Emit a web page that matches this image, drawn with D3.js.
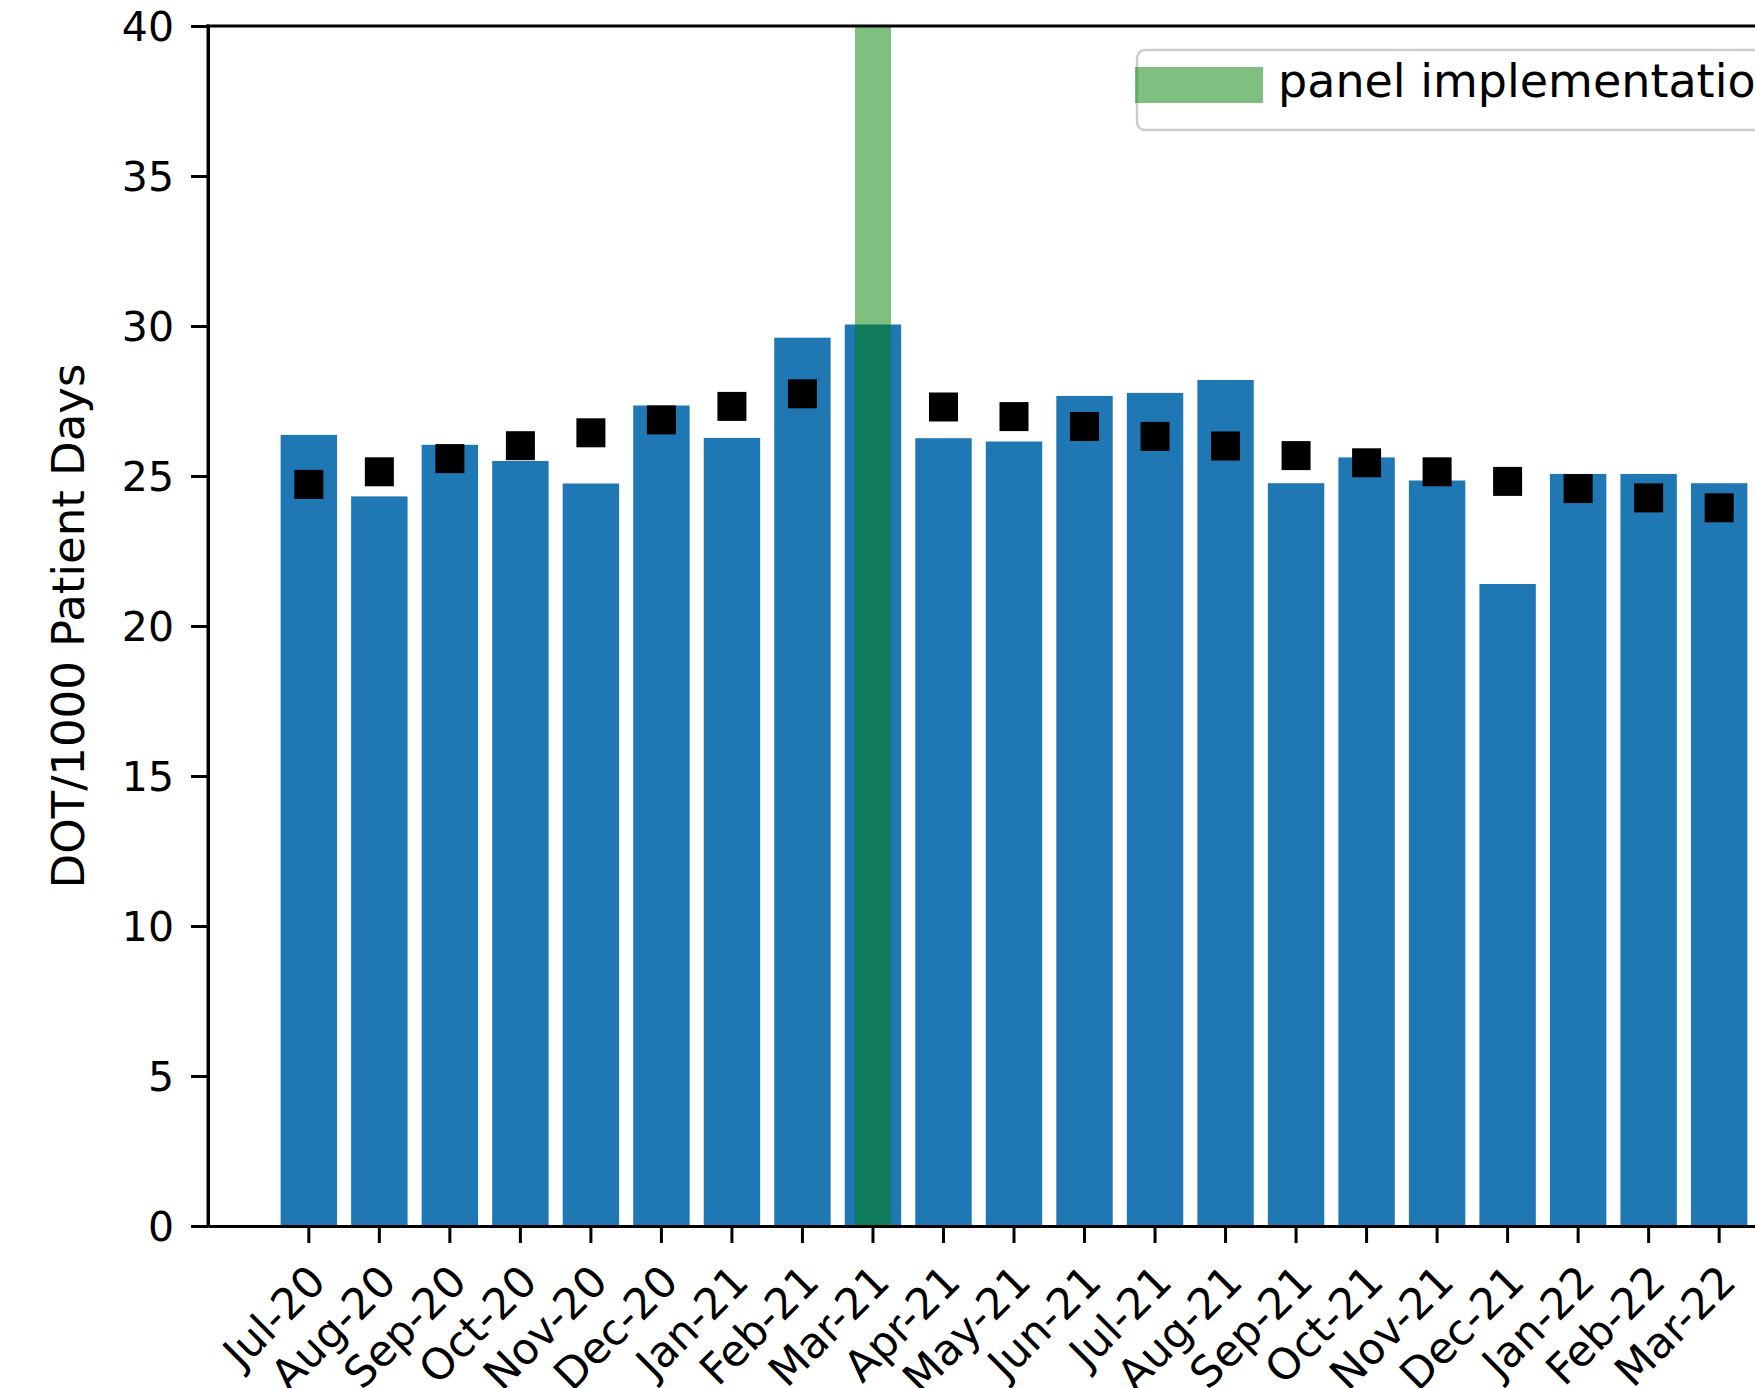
<!DOCTYPE html>
<html>
<head>
<meta charset="utf-8">
<script src="https://cdn.jsdelivr.net/npm/d3@7"></script>
<style>
  html, body { margin: 0; padding: 0; background: #ffffff; overflow: hidden; }
  svg { display: block; font-family: "DejaVu Sans", sans-serif; }
</style>
</head>
<body>
<script>
// Monthly antimicrobial days of therapy per 1000 patient days
const months = ["Jul-20", "Aug-20", "Sep-20", "Oct-20", "Nov-20", "Dec-20", "Jan-21",
  "Feb-21", "Mar-21", "Apr-21", "May-21", "Jun-21", "Jul-21", "Aug-21", "Sep-21",
  "Oct-21", "Nov-21", "Dec-21", "Jan-22", "Feb-22", "Mar-22"];

// Observed monthly rate (bars)
const observedRate = [26.37, 24.32, 26.04, 25.50, 24.75, 27.35, 26.27, 29.61, 30.05,
  26.26, 26.15, 27.67, 27.77, 28.20, 24.76, 25.62, 24.85, 21.40, 25.07, 25.07, 24.76];

// Segmented-regression fitted values (square markers); none for the implementation month
const fittedRate = [24.72, 25.14, 25.58, 26.01, 26.44, 26.87, 27.32, 27.74, null,
  27.30, 26.98, 26.65, 26.32, 26.00, 25.68, 25.44, 25.14, 24.82, 24.58, 24.27, 23.94];

const implementationMonth = "Mar-21";
const legendLabel = "panel implementation";
const yLabel = "DOT/1000 Patient Days";
const yTicks = [0, 5, 10, 15, 20, 25, 30, 35, 40];

const W = 1755, H = 1388;
const plot = { left: 208, right: 1820, top: 26, bottom: 1226 };

const svg = d3.select("body").append("svg")
  .attr("width", W).attr("height", H);

const x = d3.scaleBand()
  .domain(months)
  .range([plot.left, plot.right])
  .paddingInner(0.2)
  .paddingOuter(1.03);

const y = d3.scaleLinear()
  .domain([0, 40])
  .range([plot.bottom, plot.top]);

// Bars
svg.append("g")
  .selectAll("rect")
  .data(months.map((m, i) => ({ m, v: observedRate[i] })))
  .join("rect")
  .attr("x", d => x(d.m))
  .attr("width", x.bandwidth())
  .attr("y", d => y(d.v))
  .attr("height", d => y(0) - y(d.v))
  .attr("fill", "#1f77b4");

// Fitted markers
const marker = 29;
svg.append("g")
  .selectAll("rect")
  .data(months.map((m, i) => ({ m, v: fittedRate[i] })).filter(d => d.v != null))
  .join("rect")
  .attr("x", d => x(d.m) + x.bandwidth() / 2 - marker / 2)
  .attr("y", d => y(d.v) - marker / 2)
  .attr("width", marker)
  .attr("height", marker)
  .attr("fill", "#000000");

// Implementation line
const lineWidth = 36;
const ix = x(implementationMonth) + x.bandwidth() / 2;
svg.append("line")
  .attr("x1", ix).attr("x2", ix)
  .attr("y1", y(40)).attr("y2", y(0))
  .attr("stroke", "#008000")
  .attr("stroke-opacity", 0.5)
  .attr("stroke-width", lineWidth);

// Axes
const axisColor = "#000000";
const yAxis = svg.append("g")
  .attr("transform", `translate(${plot.left},0)`)
  .call(d3.axisLeft(y).tickValues(yTicks).tickSize(17).tickSizeOuter(0).tickPadding(17));
yAxis.selectAll("text")
  .attr("font-size", 41)
  .attr("font-family", "DejaVu Sans")
  .attr("fill", "#000")
  .attr("dy", "0.36em");

const xAxis = svg.append("g")
  .attr("transform", `translate(0,${plot.bottom})`)
  .call(d3.axisBottom(x).tickSize(17).tickSizeOuter(0));
xAxis.selectAll("text")
  .attr("font-size", 43)
  .attr("font-family", "DejaVu Sans")
  .attr("fill", "#000")
  .attr("x", 0).attr("y", 0).attr("dy", null)
  .attr("text-anchor", "end")
  .attr("transform", "translate(19,58) rotate(-45)");

svg.selectAll(".domain").attr("stroke", axisColor).attr("stroke-width", 3);
svg.selectAll(".tick line").attr("stroke", axisColor).attr("stroke-width", 3);

// Top and right spines
svg.append("line")
  .attr("x1", plot.left - 1.5).attr("x2", plot.right + 1.5)
  .attr("y1", plot.top).attr("y2", plot.top)
  .attr("stroke", axisColor).attr("stroke-width", 3);
svg.append("line")
  .attr("x1", plot.right).attr("x2", plot.right)
  .attr("y1", plot.top).attr("y2", plot.bottom)
  .attr("stroke", axisColor).attr("stroke-width", 3);
svg.append("line")
  .attr("x1", plot.left).attr("x2", plot.left)
  .attr("y1", plot.top - 1.5).attr("y2", plot.bottom + 1.5)
  .attr("stroke", axisColor).attr("stroke-width", 3);

// Y label
svg.append("text")
  .attr("transform", `translate(84,${(plot.top + plot.bottom) / 2}) rotate(-90)`)
  .attr("text-anchor", "middle")
  .attr("font-size", 45)
  .attr("fill", "#000")
  .text(yLabel);

// Legend
const legend = svg.append("g");
legend.append("rect")
  .attr("x", 1137).attr("y", 50)
  .attr("width", 1800 - 1137).attr("height", 80)
  .attr("rx", 8).attr("ry", 8)
  .attr("fill", "#ffffff").attr("fill-opacity", 0.8)
  .attr("stroke", "#cccccc").attr("stroke-width", 2.5);
legend.append("line")
  .attr("x1", 1153).attr("x2", 1245)
  .attr("y1", 85).attr("y2", 85)
  .attr("stroke", "#008000").attr("stroke-opacity", 0.5)
  .attr("stroke-width", lineWidth)
  .attr("stroke-linecap", "square");
legend.append("text")
  .attr("x", 1278).attr("y", 97)
  .attr("font-size", 46)
  .attr("fill", "#000")
  .text(legendLabel);
</script>
</body>
</html>
